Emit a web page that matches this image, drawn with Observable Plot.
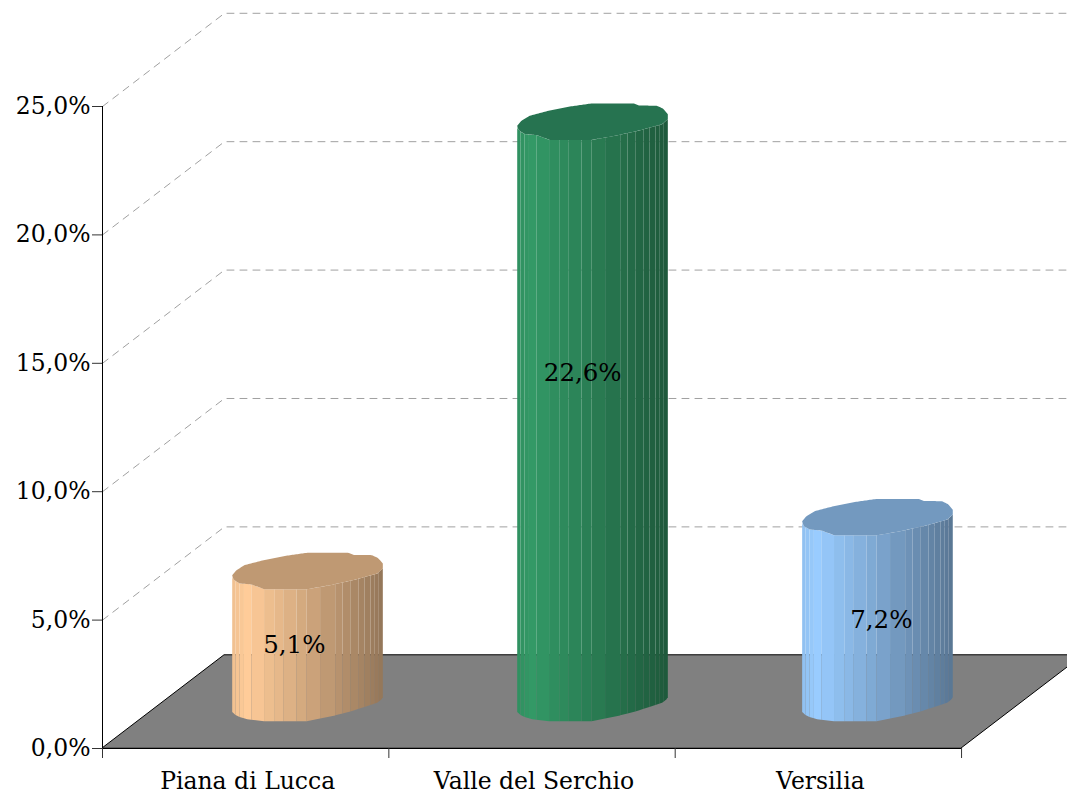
<!DOCTYPE html>
<html><head><meta charset="utf-8">
<script src="https://cdn.jsdelivr.net/npm/d3@7"></script>
<script src="https://cdn.jsdelivr.net/npm/@observablehq/plot@0.6"></script>
<style>html,body{margin:0;padding:0;background:#fff}svg{display:block}</style>
</head><body><div id="chart"></div>
<script>
const categories = ["Piana di Lucca", "Valle del Serchio", "Versilia"];
const values = [5.1, 22.6, 7.2];
const valueLabels = ["5,1%", "22,6%", "7,2%"];
const baseColors = ["#FFCC99", "#339966", "#99CCFF"];
const capColors = ["#BF9973", "#267350", "#7399BF"];
const yTicks = [0, 5, 10, 15, 20, 25];
const gridValues = [5, 10, 15, 20, 25];
const labelX = [0.67, 1.677, 2.72];
const labelY = [4.03, 14.6, 5.0];

// pseudo-3D projection, in data units of the two scales
const depthX = 0.426, depthY = 3.63;
const xEnd = 3.37, yEnd = 29.128;
const cylCenters = [0.7177, 1.713, 2.7081];
const cylHalf = 0.263;
const baseLeft = 1.40, rim = 0.23;
const facetEdges = [38,48,60,73,95,133,165,190,230,260,300,345,367,390,415,432,450,463,475,487].map(v => (v - 38) / 449);

// faceted rims of the cylinders: position across the width -> rise above the left corner
const profile = (fs, rs) => d3.scaleLinear().domain(fs).range(rs);
const rimUpper = profile([0,.027,.082,.205,.35,.494,.773,.806,.928,.97,1], [0,.19,.39,.58,.75,.87,.87,.79,.78,.66,.45]);
const rimLower = profile([0,.004,.02,.049,.127,.216,.494,.65,.806,.962,1], [0,-.13,-.22,-.32,-.36,-.55,-.55,-.39,-.19,.06,.26]);
const rimBottom = profile([0,.02,.049,.1,.216,.494,.683,.806,.962,.99,1], [0,-.11,-.19,-.28,-.36,-.36,-.13,.06,.36,.49,.58]);

const shade = f => f < 0.1 ? 0.94 + 0.6 * f : 1 - 0.42 * (f - 0.1) / 0.9;

const facets = [], caps = [];
values.forEach((v, i) => {
  const cx = cylCenters[i];
  const top = baseLeft + v + rim;
  const edges = Array.from(new Set([...facetEdges, ...rimBottom.domain(), ...rimLower.domain()])).sort(d3.ascending);
  facetEdges.slice(0, -1).forEach((e, k) => {
    const e2 = facetEdges[k + 1];
    const col = d3.rgb(baseColors[i]);
    const s = shade((e + e2) / 2);
    const color = d3.rgb(col.r * s, col.g * s, col.b * s).formatHex();
    edges.filter(f => f >= e && f <= e2).forEach(f => {
      facets.push({id: i + "-" + k, color, x: cx + cylHalf * (2 * f - 1),
        y1: baseLeft + rimBottom(f), y2: top + rimLower(f)});
    });
  });
  d3.range(0, 121).forEach(n => {
    const f = n / 120;
    caps.push({id: i, color: capColors[i], x: cx + cylHalf * (2 * f - 1),
      y1: top + rimLower(f), y2: top + rimUpper(f)});
  });
});

const floor = [
  {x1: 0, x2: 3, y: 0},
  {x1: depthX, x2: 3 + depthX, y: depthY}
];
const grid = gridValues.flatMap(v => [
  {v, x: 0, y: v},
  {v, x: depthX, y: v + depthY},
  {v, x: xEnd, y: v + depthY}
]);
const labelRows = categories.map((c, i) => ({c, x: i + 0.5}));
const valueRows = valueLabels.map((t, i) => ({t, x: labelX[i], y: labelY[i]}));

const chart = Plot.plot({
  width: 1067, height: 794,
  marginLeft: 102, marginRight: 0, marginTop: 0, marginBottom: 46,
  x: {type: "linear", domain: [0, xEnd], axis: null},
  y: {type: "linear", domain: [0, yEnd], axis: null},
  color: {type: "identity"},
  style: {fontFamily: "'DejaVu Serif'", fontSize: "23.5px", background: "#fff", color: "#000", overflow: "visible"},
  marks: [
    Plot.line(grid, {x: "x", y: "y", z: "v", stroke: "#a0a0a0", strokeWidth: 1, strokeDasharray: "7 6"}),
    Plot.area(floor, {x1: "x1", x2: "x2", y1: "y", fill: "#808080", stroke: "#000", strokeWidth: 1, clip: true}),
    Plot.ruleX([0], {y1: 0, y2: 25, stroke: "#000", strokeWidth: 1}),
    Plot.ruleY([0], {x1: 0, x2: 3, stroke: "#000", strokeWidth: 1}),
    Plot.axisY({ticks: yTicks, tickSize: 10, tickPadding: 2, label: null, fontSize: 23.5,
      tickFormat: d => d.toFixed(1).replace(".", ",") + "%", stroke: "#333"}),
    Plot.axisX({ticks: [0, 1, 2, 3], tickSize: 10, tickFormat: () => "", label: null, stroke: "#333"}),
    Plot.text(labelRows, {x: "x", y: 0, dx: 2, dy: 33, text: "c", fontSize: 23.5}),
    Plot.area(facets, {x1: "x", y1: "y1", y2: "y2", z: "id", fill: "color"}),
    Plot.area(caps, {x1: "x", y1: "y1", y2: "y2", z: "id", fill: "color"}),
    Plot.text(valueRows, {x: "x", y: "y", text: "t", fontSize: 24.5, fill: "#000"})
  ]
});
document.getElementById("chart").append(chart);
</script></body></html>
